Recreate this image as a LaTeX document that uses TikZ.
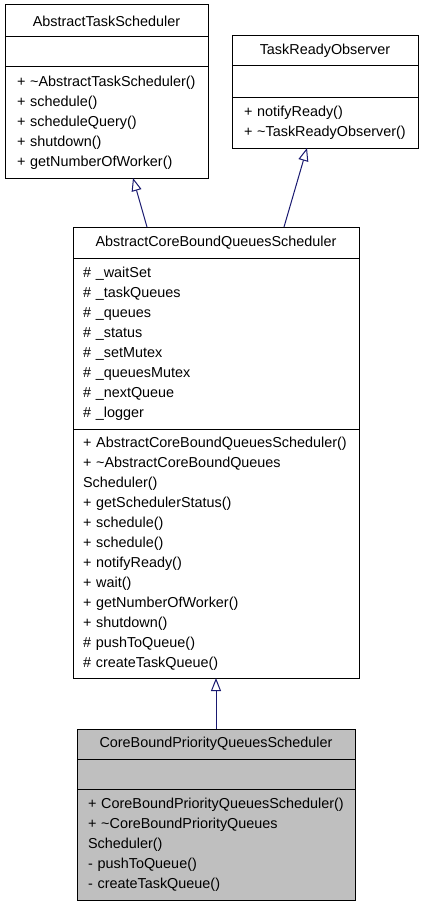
\documentclass[tikz,border=0pt]{standalone}
\usepackage{fontspec}
\setmainfont{Liberation Sans}
\usetikzlibrary{arrows.meta}

\definecolor{edgeblue}{HTML}{191970}
\definecolor{classgray}{HTML}{BFBFBF}

\begin{document}
\begin{tikzpicture}[x=1pt,y=-1pt,
  part/.style={draw,line width=1pt,inner sep=0pt,outer sep=0pt,anchor=north,font=\fontsize{14.4}{20}\selectfont},
  title/.style={part,anchor=north west},
  members/.style={part,align=left,text width=#1,inner xsep=10pt},
  inherit/.style={edgeblue,line width=1pt,-{Triangle[open,length=13pt,width=10pt,fill=white]}}]
\useasboundingbox (0,0) rectangle (424,907);
% Base class: task scheduler
\node[title,minimum width=203pt,minimum height=32pt] (ats) at (5,5) {AbstractTaskScheduler};
\node[part,minimum width=203pt,minimum height=30pt] (ats-attr) at (ats.south) {};
\node[members=179pt,inner xsep=12pt,minimum height=111pt] (ats-ops) at (ats-attr.south) {+ \textasciitilde{}AbstractTaskScheduler()\\+ schedule()\\+ scheduleQuery()\\+ shutdown()\\+ getNumberOfWorker()};
% Base class: observer
\node[title,minimum width=186pt,minimum height=30pt] (tro) at (232,36) {TaskReadyObserver};
\node[part,minimum width=186pt,minimum height=31pt] (tro-attr) at (tro.south) {};
\node[members=162pt,inner xsep=12pt,minimum height=51pt] (tro-ops) at (tro-attr.south) {+ notifyReady()\\+ \textasciitilde{}TaskReadyObserver()};
% Middle class
\node[title,minimum width=286pt,minimum height=31pt] (acb) at (73,227) {AbstractCoreBoundQueuesScheduler};
\node[members=266pt,minimum height=171pt] (acb-attr) at (acb.south) {\# \_waitSet\\\# \_taskQueues\\\# \_queues\\\# \_status\\\# \_setMutex\\\# \_queuesMutex\\\# \_nextQueue\\\# \_logger};
\node[members=266pt,minimum height=249pt] (acb-ops) at (acb-attr.south) {+ AbstractCoreBoundQueuesScheduler()\\+ \textasciitilde{}AbstractCoreBoundQueues\\Scheduler()\\+ getSchedulerStatus()\\+ schedule()\\+ schedule()\\+ notifyReady()\\+ wait()\\+ getNumberOfWorker()\\+ shutdown()\\\# pushToQueue()\\\# createTaskQueue()};
% Derived class, shaded
\node[title,fill=classgray,minimum width=278pt,minimum height=30pt] (cbp) at (77,729) {CoreBoundPriorityQueuesScheduler};
\node[part,fill=classgray,minimum width=278pt,minimum height=30pt] (cbp-attr) at (cbp.south) {};
\node[members=256pt,inner xsep=11pt,fill=classgray,minimum height=111pt] (cbp-ops) at (cbp-attr.south) {+ CoreBoundPriorityQueuesScheduler()\\+ \textasciitilde{}CoreBoundPriorityQueues\\Scheduler()\\- pushToQueue()\\- createTaskQueue()};
% Inheritance arrows
\draw[inherit] ([xshift=-69pt]acb.north) -- ([xshift=26.5pt]ats-ops.south);
\draw[inherit] ([xshift=68pt]acb.north) -- ([xshift=-18pt]tro-ops.south);
\draw[inherit] (cbp.north) -- (acb-ops.south);
\end{tikzpicture}
\end{document}
